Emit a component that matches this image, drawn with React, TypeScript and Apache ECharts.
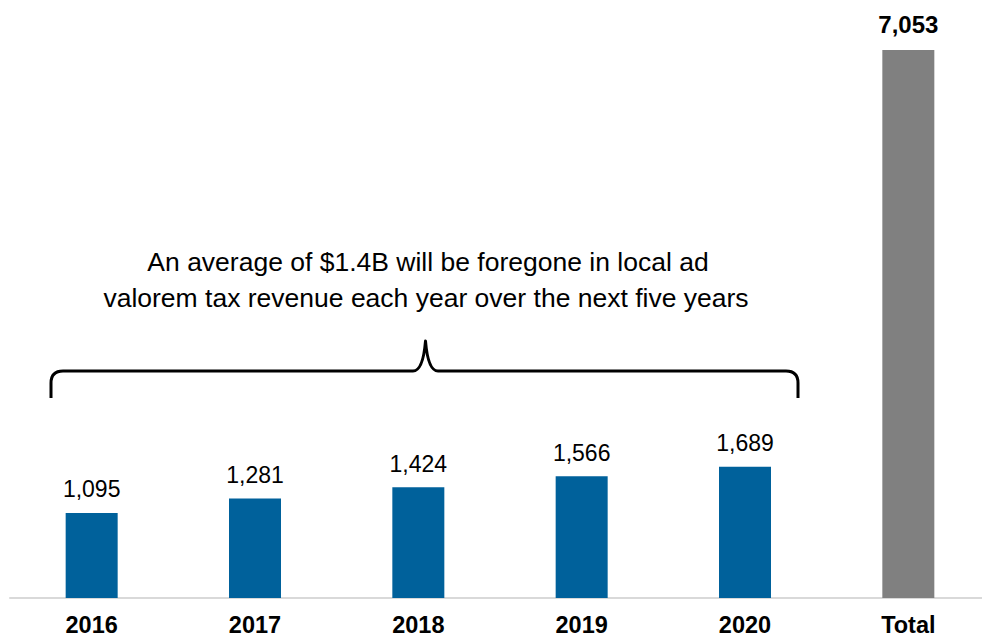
import React, { useEffect, useRef } from "react";
import * as echarts from "echarts";

const categories = ["2016", "2017", "2018", "2019", "2020", "Total"];
const values = [1095, 1281, 1424, 1566, 1689, 7053];
const annotationLines = [
  "An average of $1.4B will be foregone in local ad",
  "valorem tax revenue each year over the next five years",
];

const BLUE = "#00619B";
const GRAY = "#808080";

const bracketD =
  "M51,398 L51,383 Q51,371 63,371 L413,371 Q423,371 425.5,341 Q428,371 438,371 L786,371 Q798,371 798,383 L798,398";

echarts.graphic.registerShape("bracket", echarts.graphic.extendPath(bracketD, {}));

export default function App() {
  const ref = useRef<HTMLDivElement>(null);
  useEffect(() => {
    document.body.style.margin = "0";
    const chart = echarts.init(ref.current!, undefined, { renderer: "svg" });
    const font = "Arial, 'Liberation Sans', Helvetica, sans-serif";
    chart.setOption({
      animation: false,
      grid: { left: 10, right: 0, top: 50, bottom: 40, outerBoundsMode: "none", containLabel: false },
      xAxis: {
        type: "category",
        data: categories,
        axisLine: { show: true, lineStyle: { color: "#D9D9D9", width: 2 } },
        axisTick: { show: false },
        axisLabel: {
          color: "#000",
          fontWeight: "bold",
          fontSize: 23.5,
          lineHeight: 18,
          fontFamily: font,
          margin: 18,
        },
      },
      yAxis: { type: "value", min: 0, max: 7053, show: false, splitLine: { show: false } },
      series: [
        {
          type: "bar",
          barWidth: 52,
          data: values.map((v, i) => {
            const isTotal = categories[i] === "Total";
            return {
              value: v,
              itemStyle: { color: isTotal ? GRAY : BLUE },
              label: isTotal
                ? { fontWeight: "bold", fontSize: 24, distance: 14 }
                : { fontWeight: "normal", distance: 12 },
            };
          }),
          label: {
            show: true,
            position: "top",
            color: "#000",
            fontSize: 23,
            fontFamily: font,
            formatter: (p: any) => Number(p.value).toLocaleString("en-US"),
          },
        },
      ],
      graphic: [
        {
          type: "bracket",
          x: 0,
          y: 0,
          style: { fill: "none", stroke: "#000", lineWidth: 3, lineJoin: "round" },
        },
        {
          type: "text",
          x: 428,
          y: 262,
          style: {
            text: annotationLines[0],
            fontSize: 26.5,
            fontFamily: font,
            fill: "#000",
            textAlign: "center",
            textVerticalAlign: "middle",
          },
        },
        {
          type: "text",
          x: 426,
          y: 298,
          style: {
            text: annotationLines[1],
            fontSize: 26.5,
            fontFamily: font,
            fill: "#000",
            textAlign: "center",
            textVerticalAlign: "middle",
          },
        },
      ],
    });
    return () => chart.dispose();
  }, []);
  return (
    <div style={{ width: 982, height: 638, overflow: "hidden", position: "relative" }}>
      <div ref={ref} style={{ width: 990, height: 638 }} />
    </div>
  );
}
